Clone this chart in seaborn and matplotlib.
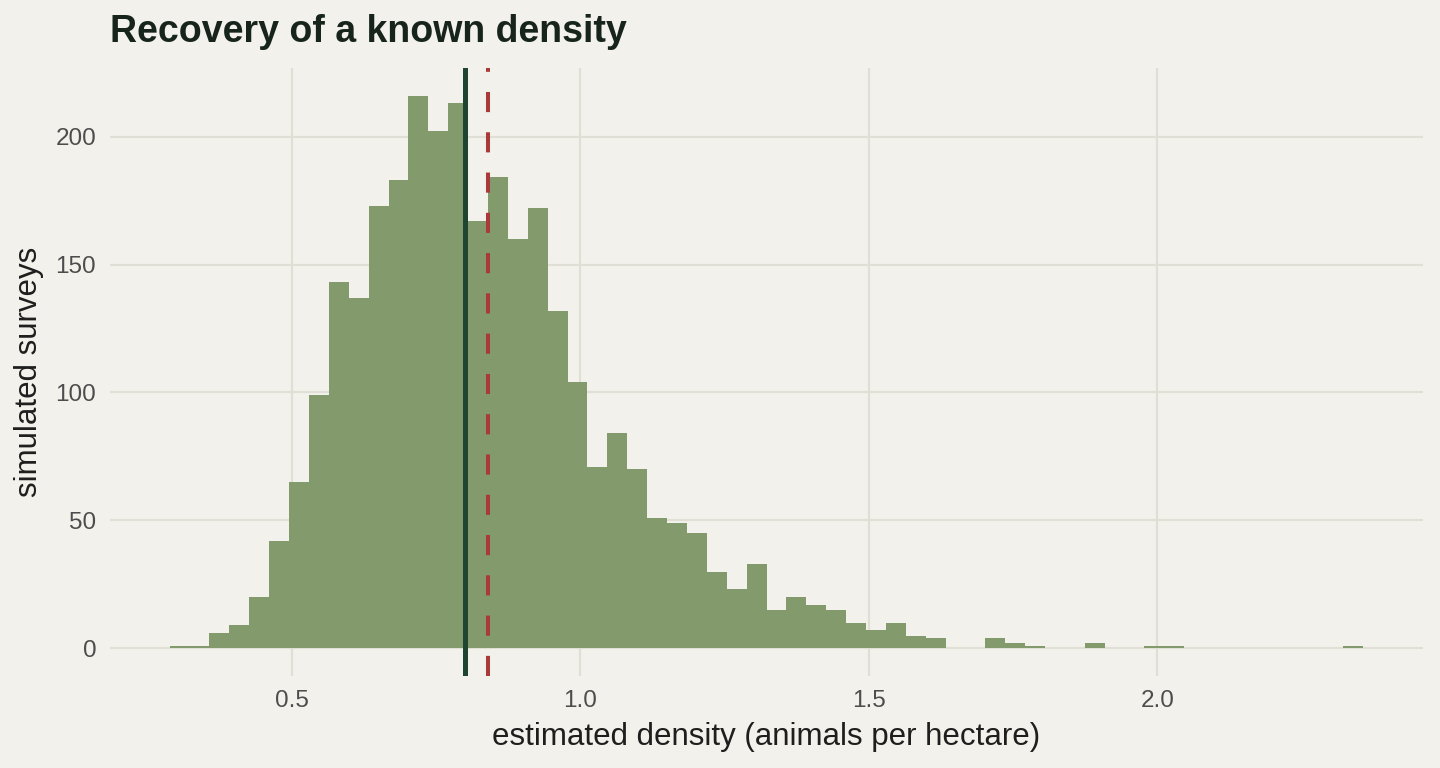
import numpy as np
import pandas as pd
import matplotlib.pyplot as plt
import seaborn as sns

# histogram: 60 equal bins
bin_start = 0.2887
bin_width = 0.03447
counts = [1, 1, 6, 9, 20, 42, 65, 99, 143, 137,
          173, 183, 216, 202, 213, 167, 184, 160, 172, 132,
          104, 71, 84, 70, 51, 49, 45, 30, 23, 33,
          15, 20, 17, 15, 10, 7, 10, 5, 4, 0,
          0, 4, 2, 1, 0, 0, 2, 0, 0, 1,
          1, 0, 0, 0, 0, 0, 0, 0, 0, 1]
true_density = 0.80
mean_estimate = 0.84
x_ticks = [0.5, 1.0, 1.5, 2.0]
y_ticks = [0, 50, 100, 150, 200]

edges = bin_start + bin_width * np.arange(len(counts) + 1)
hist_df = pd.DataFrame({"density": (edges[:-1] + edges[1:]) / 2,
                        "n": counts})

bg = "#f2f1eb"
sns.set_theme(style="whitegrid")
plt.rcParams['font.family'] = ['Liberation Sans', 'DejaVu Sans']

fig = plt.figure(figsize=(14.4, 7.68), dpi=100, facecolor=bg)
ax = fig.add_axes([0.0764, 0.1198, 0.9118, 0.7917])
ax.set_facecolor(bg)

# bins as a plain list (seaborn compares bins to "auto" when weights are given)
sns.histplot(data=hist_df, x="density", weights="n", bins=edges.tolist(), ax=ax,
             color="#839a6d", alpha=1, linewidth=0, edgecolor="none")

ax.axvline(true_density, color="#1f4530", lw=3.6, zorder=3)
red = ax.axvline(mean_estimate, color="#a83a3a", lw=2.9, zorder=3)
red.set_dashes((5, 5))

xr = edges[-1] - edges[0]
ax.set_xlim(edges[0] - 0.05 * xr, edges[-1] + 0.05 * xr)
ymax = max(counts)
ax.set_ylim(-0.05 * ymax, ymax * 1.05)
ax.set_xticks(x_ticks)
ax.set_xticklabels([f"{v:.1f}" for v in x_ticks])
ax.set_yticks(y_ticks)

ax.grid(True, color="#e0dfd6", lw=1.6)
ax.set_axisbelow(True)
for s in ax.spines.values():
    s.set_visible(False)
ax.tick_params(axis="both", length=0, labelsize=17.5, labelcolor="#4d4d4d")
ax.tick_params(axis="x", pad=10)
ax.tick_params(axis="y", pad=10)

ax.set_xlabel("estimated density (animals per hectare)", fontsize=22.5,
              color="#1e1e1e", labelpad=7)
ax.set_ylabel("simulated surveys", fontsize=22.5, color="#1e1e1e", labelpad=8)
fig.text(0.0764, 0.958, "Recovery of a known density", fontsize=27,
         fontweight="bold", color="#17241b", ha="left", va="center")

plt.savefig("out.png", dpi=100, facecolor=bg)
plt.close()
